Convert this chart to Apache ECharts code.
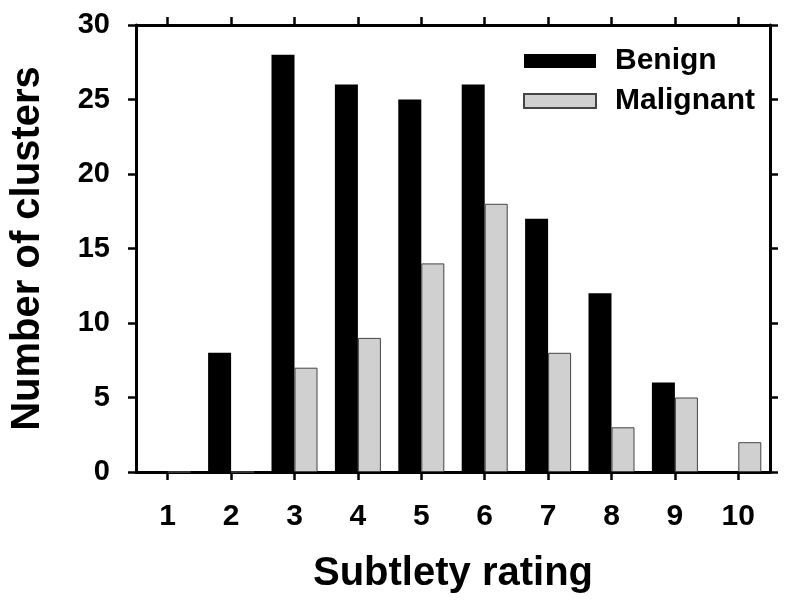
<!DOCTYPE html>
<html>
<head>
<meta charset="utf-8">
<script src="https://cdn.jsdelivr.net/npm/echarts@6/dist/echarts.min.js"></script>
<style>html,body{margin:0;padding:0;background:#fff;}#c{width:800px;height:611px;}</style>
</head>
<body>
<div id="c"></div>
<script>
const categories = ['1','2','3','4','5','6','7','8','9','10'];
const benign = [0, 8, 28, 26, 25, 26, 17, 12, 6, 0];
const malignant = [0, 0, 7, 9, 14, 18, 8, 3, 5, 2];
const yTicks = {min: 0, max: 30, interval: 5};

const FONT = 'Liberation Sans';
const axisLine = {show: true, onZero: false, lineStyle: {color: '#000', width: 3}};
const tick = {show: true, length: 8, lineStyle: {color: '#000', width: 2.5}};
const chart = echarts.init(document.getElementById('c'));
chart.setOption({
  animation: false,
  backgroundColor: '#fff',
  textStyle: {fontFamily: FONT},
  grid: {left: 133, right: 30, top: 25, bottom: 139},
  legend: {
    orient: 'vertical', left: 518, top: 41,
    itemWidth: 72, itemHeight: 14, itemGap: 10, icon: 'rect',
    textStyle: {fontFamily: FONT, fontWeight: 'bold', fontSize: 30, color: '#000', lineHeight: 30, padding: [0,0,0,14]},
    data: ['Benign', 'Malignant']
  },
  xAxis: [{
    type: 'category', data: categories, position: 'bottom',
    axisLine: axisLine,
    axisTick: Object.assign({alignWithLabel: true}, tick),
    axisLabel: {color: '#000', fontFamily: FONT, fontWeight: 'bold', fontSize: 30, margin: 30},
    name: 'Subtlety rating', nameLocation: 'middle', nameGap: 82,
    nameTextStyle: {color: '#000', fontFamily: FONT, fontWeight: 'bold', fontSize: 40}
  }, {
    type: 'category', data: categories, position: 'top',
    axisLine: axisLine,
    axisTick: Object.assign({alignWithLabel: true}, tick),
    axisLabel: {show: false}
  }],
  yAxis: [{
    type: 'value', min: yTicks.min, max: yTicks.max, interval: yTicks.interval, position: 'left',
    axisLine: axisLine,
    axisTick: tick,
    splitLine: {show: false},
    axisLabel: {color: '#000', fontFamily: FONT, fontWeight: 'bold', fontSize: 29, margin: 26},
    name: 'Number of clusters', nameLocation: 'middle', nameGap: 88,
    nameTextStyle: {color: '#000', fontFamily: FONT, fontWeight: 'bold', fontSize: 40}
  }, {
    type: 'value', min: yTicks.min, max: yTicks.max, interval: yTicks.interval, position: 'right',
    axisLine: axisLine,
    axisTick: tick,
    splitLine: {show: false},
    axisLabel: {show: false}
  }],
  series: [{
    name: 'Benign', type: 'bar', data: benign, barWidth: 23, barGap: '0%',
    itemStyle: {color: '#000', borderColor: '#000', borderWidth: 0}
  }, {
    name: 'Malignant', type: 'bar', data: malignant, barWidth: 23, barGap: '0%',
    itemStyle: {color: '#d0d0d0', borderColor: '#444', borderWidth: 1}
  }]
});
</script>
</body>
</html>
